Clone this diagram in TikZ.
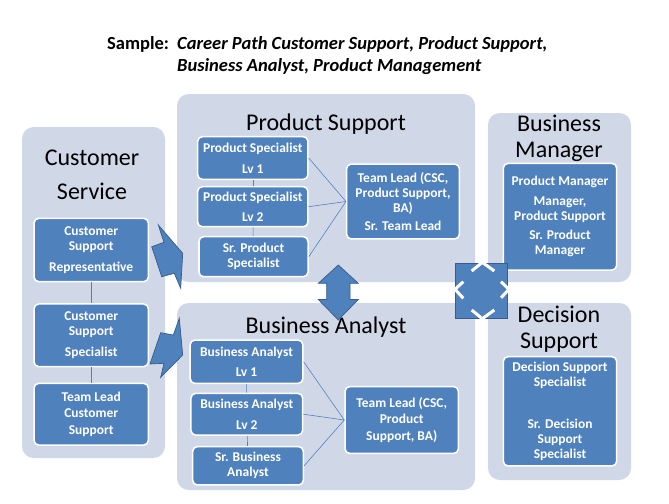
\documentclass[tikz,border=0pt]{standalone}
\usepackage{fontspec}
\setmainfont{Carlito}
\usetikzlibrary{positioning}
\definecolor{panelgray}{RGB}{208,216,232}
\definecolor{boxblue}{RGB}{79,129,189}
\definecolor{edgeblue}{RGB}{56,93,138}

\begin{document}
\begin{tikzpicture}[x=0.854pt, y=-0.854pt,
    panel/.style={fill=panelgray, rounded corners=10pt},
    head/.style={font=\fontsize{20.5}{22}\selectfont, align=center, inner sep=0pt},
    role/.style={draw=white, line width=1.3pt, fill=boxblue, rounded corners=4pt, text=white,
        align=center, inner sep=1pt, font=\bfseries\fontsize{11.5}{12.8}\selectfont},
    link/.style={draw=boxblue, line width=0.5pt},
    fat/.style={fill=boxblue, draw=edgeblue, line width=0.6pt, line join=miter}]
    \useasboundingbox[fill=white] (0,0) rectangle (669,503);

    % Titel
    \node[anchor=north west, inner sep=0pt, font=\bfseries\fontsize{15.8}{18.8}\selectfont] (sample) at (107,36) {Sample:};
    \node[anchor=north west, inner sep=0pt, align=left, font=\bfseries\itshape\fontsize{15.8}{18.8}\selectfont] (subject) at (177,36)
        {Career Path Customer Support, Product Support,\\Business Analyst, Product Management};

    % Panels
    \fill[panel] (22,127) rectangle (165,458);
    \fill[panel] (177,94) rectangle (475,282);
    \fill[panel] (177,303) rectangle (475,490);
    \fill[panel] (488,113) rectangle (631,282);
    \fill[panel] (488,303) rectangle (631,480);

    \node[head] (cstitle) at (92,175) {Customer\\[7pt]Service};
    \node[head] (pstitle) at (326,124) {Product Support};
    \node[head] (batitle) at (326,327) {Business Analyst};
    \node[head] (bmtitle) at (559,138) {Business\\Manager};
    \node[head] (dstitle) at (559,329) {Decision\\Support};

    % Customer Service
    \node[role, minimum width=97.6pt, minimum height=54.1pt] (csr) at (91.2,250) {Customer\\Support\\[5pt]Representative};
    \node[role, minimum width=97.6pt, minimum height=53.5pt] (css) at (91.2,335.3) {Customer\\Support\\[5pt]Specialist};
    \node[role, minimum width=97.6pt, minimum height=52.7pt] (cstl) at (91.2,414.2) {Team Lead\\[1pt]Customer\\[1pt]Support};
    \draw[link] (csr) -- (css);
    \draw[link] (css) -- (cstl);

    % Product Support
    \node[role, minimum width=94.2pt, minimum height=36.4pt] (ps1) at (252.8,158) {Product Specialist\\[5pt]Lv 1};
    \node[role, minimum width=94.2pt, minimum height=34.2pt] (ps2) at (252.8,206.7) {Product Specialist\\[5pt]Lv 2};
    \node[role, minimum width=93.1pt, minimum height=34.2pt] (srps) at (253.5,256.7) {Sr. Product\\Specialist};
    \node[role, minimum width=96.2pt, minimum height=64pt] (pstl) at (403,201.5)
        {Team Lead (CSC,\\Product Support,\\BA)\\[3pt]Sr. Team Lead};
    \draw[link] (ps1) -- (ps2);
    \draw[link] (ps2) -- (srps);
    \draw[link] (ps1.east) -- (pstl.west);
    \draw[link] (ps2.east) -- (pstl.west);
    \draw[link] (srps.east) -- (pstl.west);

    % Business Analyst
    \node[role, minimum width=96.2pt, minimum height=37pt] (ba1) at (246.5,361.7) {Business Analyst\\[5pt]Lv 1};
    \node[role, minimum width=95.4pt, minimum height=35.6pt] (ba2) at (246.8,414.2) {Business Analyst\\[5pt]Lv 2};
    \node[role, minimum width=94.5pt, minimum height=32.7pt] (srba) at (248,465.8) {Sr. Business\\Analyst};
    \node[role, minimum width=96.8pt, minimum height=57pt] (batl) at (401.7,420)
        {Team Lead (CSC,\\[1pt]Product\\[1pt]Support, BA)};
    \draw[link] (ba1) -- (ba2);
    \draw[link] (ba2) -- (srba);
    \draw[link] (ba1.east) -- (batl.west);
    \draw[link] (ba2.east) -- (batl.west);
    \draw[link] (srba.east) -- (batl.west);

    % Business Manager, Decision Support
    \node[role, minimum width=96.8pt, minimum height=91.1pt] (bmgr) at (560,216.7)
        {Product Manager\\[4pt]Manager,\\Product Support\\[4pt]Sr. Product\\Manager};
    \node[role, minimum width=96.8pt, minimum height=93.3pt] (dsup) at (560,411.3)
        {Decision Support\\Specialist\\[23pt]Sr. Decision\\Support\\Specialist};

    % Pfeile
    \filldraw[fat] (151.7,246.7) -- (164,242.3) -- (158.3,225) -- (182.7,253.3) -- (180.7,288.3)
        -- (174.3,273.3) -- (161.7,276.7) -- cycle;
    \filldraw[fat] (150,364) -- (160.7,332.7) -- (173.3,335) -- (179.3,318.3) -- (182.7,355)
        -- (160.7,377.3) -- (164,363.3) -- cycle;
    \filldraw[fat] (338.3,265) -- (358.3,283.3) -- (350,283.3) -- (350,299.5) -- (358.3,299.5)
        -- (338.3,320) -- (318.3,299.5) -- (326.7,299.5) -- (326.7,283.3) -- (318.3,283.3) -- cycle;
    \filldraw[fat] (455.7,263.3) rectangle (507.7,318.3);
    \draw[white, line width=2.6pt] (471.7,271) -- (482.3,262.3) -- (494.3,271);
    \draw[white, line width=2.6pt] (471.7,310) -- (482.3,318.7) -- (494.3,310);
    \draw[white, line width=2.6pt] (463.3,281.7) -- (455,289.3) -- (463.3,298.3);
    \draw[white, line width=2.6pt] (501,281.7) -- (509,289.3) -- (501,297.7);
\end{tikzpicture}
\end{document}
